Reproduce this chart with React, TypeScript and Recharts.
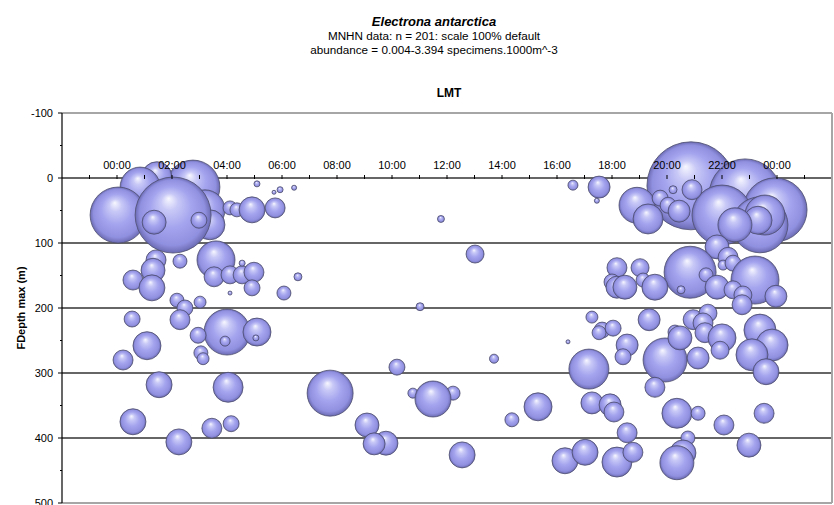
import React from 'react';
import { ScatterChart, Scatter, XAxis, YAxis, ZAxis, CartesianGrid, ReferenceLine } from 'recharts';

// ---- data (time in hours LMT, depth in m, abundance in specimens.1000m^-3) ----
const timeHours = [
  2.76, 1.45, 0.84, 0.04, 3.2, 3.38, 2.04, 1.35, 2.98, 4.11, 4.36, 4.91, 5.75, 5.09, 5.71, 5.93, 6.44,
  1.42, 1.31, 2.29, 3.6, 3.53, 4.11, 4.55, 4.55, 4.98, 4.91, 4.11, 6.07, 6.58, 0.58, 1.27, 2.18, 2.47,
  2.29, 3.02, 0.55, 1.09, 0.22, 4.0, 3.93, 5.09, 5.05, 2.95, 3.05, 3.13, 1.53, 4.04, 0.58, 3.45, 4.15, 2.25,
  16.58, 11.78, 13.02, 11.02, 16.4, 13.71, 10.18, 7.75, 10.76, 12.22, 11.49, 15.31, 14.36, 9.09, 9.78, 9.35,
  12.55, 16.29, 17.02,
  20.87, 17.53, 17.45, 22.84, 23.93, 22.0, 23.38, 23.56, 23.31, 22.47, 18.91, 19.31, 19.75, 20.04, 20.44,
  20.22, 20.91,
  21.82, 22.22, 22.04, 22.4, 20.84, 23.2, 18.18, 19.02, 18.0, 18.18, 18.47, 19.13, 19.56, 20.51, 21.42,
  21.82, 22.4, 22.76, 22.73, 23.96,
  17.27, 17.64, 17.53, 18.04, 19.35, 18.55, 18.4, 17.16, 19.93, 20.29, 20.47, 20.95, 21.49, 21.31, 21.38,
  21.13, 22.0, 21.93, 23.38, 23.82, 23.09, 23.6, 19.56, 17.27, 17.93, 18.07, 20.36, 21.13, 22.07, 23.53,
  18.55, 20.76, 22.98, 20.58, 20.36, 18.18, 18.76,
];
const depthM = [
  14, -2, 14, 57, 49, 72, 57, 68, 65, 46, 49, 49, 46, 9, 22, 18, 15,
  126, 142, 128, 126, 152, 149, 149, 131, 145, 169, 177, 177, 152, 157, 169, 188, 200,
  218, 191, 217, 258, 280, 237, 251, 237, 246, 242, 269, 278, 318, 322, 375, 385, 378, 406,
  11, 63, 117, 198, 252, 278, 291, 331, 331, 331, 340, 352, 372, 380, 408, 409,
  426, 435, 422,
  12, 14, 35, 26, 49, 57, 72, 57, 65, 72, 42, 63, 31, 42, 51,
  18, 18,
  106, 122, 134, 131, 145, 157, 138, 138, 160, 168, 168, 157, 168, 172, 149,
  168, 172, 180, 195, 182,
  214, 234, 238, 231, 218, 257, 275, 294, 280, 237, 246, 218, 208, 223, 238,
  277, 246, 265, 234, 257, 272, 298, 322, 346, 349, 360, 362, 362, 380, 362,
  392, 400, 411, 423, 438, 437, 422,
];
const abundance = [
  1.278, 0.394, 0.701, 1.374, 0.701, 0.394, 2.531, 0.252, 0.112, 0.086, 0.086, 0.296, 0.175, 0.016, 0.007, 0.016, 0.011,
  0.175, 0.252, 0.086, 0.633, 0.175, 0.142, 0.142, 0.016, 0.175, 0.112, 0.007, 0.086, 0.028, 0.175, 0.296, 0.086, 0.112,
  0.175, 0.063, 0.112, 0.344, 0.175, 0.927, 0.044, 0.344, 0.016, 0.112, 0.086, 0.063, 0.296, 0.394, 0.296, 0.175, 0.112, 0.296,
  0.044, 0.021, 0.142, 0.028, 0.007, 0.036, 0.112, 0.927, 0.044, 0.086, 0.568, 0.344, 0.086, 0.252, 0.252, 0.212,
  0.296, 0.296, 0.296,
  3.394, 0.212, 0.011, 2.272, 1.795, 1.578, 1.374, 0.701, 0.344, 0.507, 0.568, 0.394, 0.112, 0.112, 0.212,
  0.028, 0.175,
  0.252, 0.175, 0.044, 0.112, 1.185, 1.01, 0.175, 0.142, 0.112, 0.212, 0.252, 0.086, 0.296, 0.028, 0.086,
  0.252, 0.142, 0.142, 0.175, 0.212,
  0.063, 0.112, 0.086, 0.112, 0.212, 0.212, 0.112, 0.701, 0.849, 0.086, 0.252, 0.175, 0.142, 0.175, 0.175,
  0.212, 0.344, 0.142, 0.449, 0.449, 0.449, 0.296, 0.175, 0.212, 0.212, 0.175, 0.394, 0.086, 0.175, 0.175,
  0.175, 0.086, 0.252, 0.296, 0.507, 0.394, 0.175,
];

const xTicks = [-1, 0, 1, 2, 3, 4, 5, 6, 7, 8, 9, 10, 11, 12, 13, 14, 15, 16, 17, 18, 19, 20, 21, 22, 23, 24, 25];
const yTicks = [-100, -50, 0, 50, 100, 150, 200, 250, 300, 350, 400, 450, 500];
const gridDepths = [0, 100, 200, 300, 400];
const xDomain: [number, number] = [-2, 26];
const yDomain: [number, number] = [-100, 500];
const abundanceRange: [number, number] = [0, 3.394];

const titleText = 'Electrona antarctica';
const subtitle1 = 'MNHN data: n = 201: scale 100% default';
const subtitle2 = 'abundance = 0.004-3.394 specimens.1000m^-3';
const xTitle = 'LMT';
const yTitle = 'FDepth max (m)';

// ---- layout ----
const W = 834;
const H = 505;
const PLOT_LEFT = 62;
const PLOT_TOP = 113;
const PLOT_RIGHT = 832;
const PLOT_BOTTOM = 503;
const X_AXIS_H = 20;
const MAX_R = 44;
const FONT = '"Liberation Sans", Arial, Helvetica, sans-serif';

const AXIS_Y = PLOT_TOP + ((0 - yDomain[0]) / (yDomain[1] - yDomain[0])) * (PLOT_BOTTOM - PLOT_TOP);

const data = timeHours.map((h, i) => ({ h, d: depthM[i], a: abundance[i] }));

const fmtHour = (v: number) => {
  const hh = ((v % 24) + 24) % 24;
  return (hh < 10 ? '0' : '') + hh + ':00';
};

const XTick = (props: any) => {
  const { x, payload } = props;
  const v = payload.value as number;
  const show = v % 2 === 0 && v >= 0 && v <= 24;
  return (
    <g>
      <line x1={x} x2={x} y1={AXIS_Y - 3} y2={AXIS_Y + 1} stroke="#000" strokeWidth={1} />
      {show && (
        <text x={x} y={AXIS_Y - 9} textAnchor="middle" fontSize={11} fill="#000" fontFamily={FONT}>
          {fmtHour(v)}
        </text>
      )}
    </g>
  );
};

const YTick = (props: any) => {
  const { x, y, payload } = props;
  const v = payload.value as number;
  const major = v % 100 === 0;
  return (
    <g>
      <line x1={PLOT_LEFT - (major ? 4 : 2)} x2={PLOT_LEFT} y1={y} y2={y} stroke="#000" strokeWidth={1} />
      {major && (
        <text x={x} y={y + 4} textAnchor="end" fontSize={11} fill="#000" fontFamily={FONT}>
          {v}
        </text>
      )}
    </g>
  );
};

const Bubble = (props: any) => {
  const { cx, cy, width, size } = props;
  if (cx == null || cy == null) return null;
  const r = width != null ? width / 2 : Math.sqrt(Math.max(size || 0, 0) / Math.PI);
  return <circle cx={cx} cy={cy} r={r} fill="url(#bubbleGrad)" stroke="#4e4e6e" strokeWidth={0.8} />;
};

export default function App() {
  return (
    <div style={{ position: 'absolute', left: 0, top: 0, width: W, height: H, background: '#fff' }}>
      <svg width={0} height={0} style={{ position: 'absolute' }}>
        <defs>
          <radialGradient id="bubbleGrad" cx="0.5" cy="0.5" r="0.5" fx="0.44" fy="0.28">
            <stop offset="0" stopColor="#f7f7ff" />
            <stop offset="0.22" stopColor="#c9c9f7" />
            <stop offset="0.55" stopColor="#a3a3ee" />
            <stop offset="0.86" stopColor="#9090e0" />
            <stop offset="1" stopColor="#6a6ab2" />
          </radialGradient>
        </defs>
      </svg>
      <ScatterChart
        width={W}
        height={H}
        margin={{ top: PLOT_TOP - X_AXIS_H, right: W - PLOT_RIGHT, bottom: H - PLOT_BOTTOM, left: 0 }}
      >
        <CartesianGrid
          horizontal
          vertical={false}
          horizontalValues={gridDepths}
          stroke="#333"
          strokeWidth={1.4}
        />
        <ReferenceLine y={yDomain[0]} stroke="#a6a6a6" strokeWidth={2} />
        <ReferenceLine y={yDomain[1]} stroke="#a6a6a6" strokeWidth={2} />
        <ReferenceLine x={xDomain[1]} stroke="#a6a6a6" strokeWidth={2} />
        <XAxis
          xAxisId={0}
          type="number"
          dataKey="h"
          orientation="top"
          domain={xDomain}
          ticks={xTicks}
          interval={0}
          height={X_AXIS_H}
          axisLine={false}
          tickLine={false}
          tick={<XTick />}
          allowDataOverflow
          zIndex={700}
        />
        <YAxis
          yAxisId={0}
          type="number"
          dataKey="d"
          domain={yDomain}
          reversed
          ticks={yTicks}
          interval={0}
          width={PLOT_LEFT}
          tickSize={4}
          tickMargin={5}
          tickLine={false}
          axisLine={{ stroke: '#000', strokeWidth: 1.2 }}
          tick={<YTick />}
          allowDataOverflow
        />
        <ZAxis type="number" dataKey="a" domain={abundanceRange} range={[0, Math.PI * MAX_R * MAX_R]} />
        <Scatter data={data} shape={<Bubble />} isAnimationActive={false} />
      </ScatterChart>
      <svg
        width={W}
        height={H}
        style={{ position: 'absolute', left: 0, top: 0, pointerEvents: 'none' }}
      >
        <text x={434} y={26} textAnchor="middle" fontSize={13} fontWeight="bold" fontStyle="italic" fontFamily={FONT} fill="#000">
          {titleText}
        </text>
        <text x={434} y={40} textAnchor="middle" fontSize={11.7} fontFamily={FONT} fill="#000">
          {subtitle1}
        </text>
        <text x={434} y={54} textAnchor="middle" fontSize={11.7} fontFamily={FONT} fill="#000">
          {subtitle2}
        </text>
        <text x={449} y={97} textAnchor="middle" fontSize={12} fontWeight="bold" fontFamily={FONT} fill="#000">
          {xTitle}
        </text>
        <text
          x={0}
          y={0}
          transform={`translate(25, ${(PLOT_TOP + PLOT_BOTTOM) / 2}) rotate(-90)`}
          textAnchor="middle"
          fontSize={11}
          fontWeight="bold"
          fontFamily={FONT}
          fill="#000"
        >
          {yTitle}
        </text>
      </svg>
    </div>
  );
}
